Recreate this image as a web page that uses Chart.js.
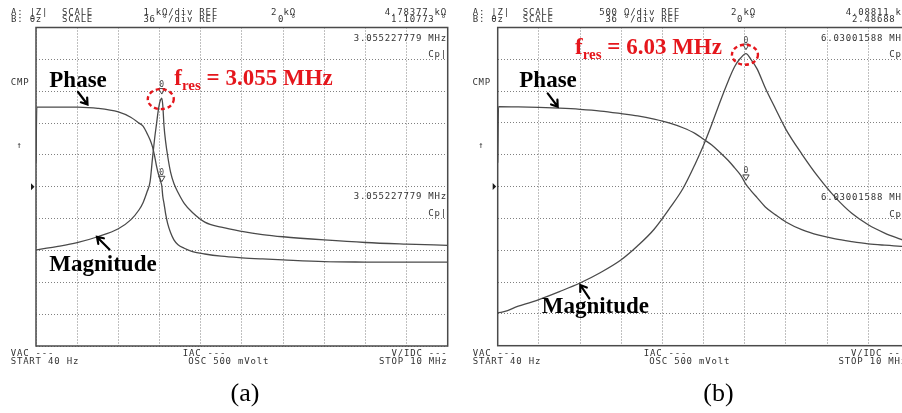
<!DOCTYPE html>
<html>
<head>
<meta charset="utf-8">
<script src="https://cdn.jsdelivr.net/npm/chart.js@4.4.1/dist/chart.umd.min.js"></script>
<style>
  html, body { margin: 0; padding: 0; background: #fff; overflow: hidden; width: 902px; height: 413px; }
  #wrap { position: relative; width: 902px; height: 413px; overflow: hidden; }
  canvas { position: absolute; top: 0; }
  #cA { left: 0; }
  #cB { left: 451px; }
</style>
</head>
<body>
<div id="wrap">
  <canvas id="cA" width="451" height="413"></canvas>
  <canvas id="cB" width="460" height="413"></canvas>
</div>
<script>
// ---- Sweep: 40 Hz to 10 MHz (frequency in MHz), 10 divisions ----
const xDivs = [0.00004, 1, 2, 3, 4, 5, 6, 7, 8, 9, 10];
const phaseDivs = [-180, -144, -108, -72, -36, 0, 36, 72, 108, 144, 180];

// ---- Panel (a): |Z| 1 kOhm/div, ref 2 kOhm; phase 36 deg/div, ref 0 deg ----
const zDivsA = [-3, -2, -1, 0, 1, 2, 3, 4, 5, 6, 7];
const freqA  = [0.00004, 0.02, 0.5, 1.0, 1.5, 2.0, 2.3, 2.5, 2.6, 2.7, 2.77, 2.83, 2.88, 2.93, 2.97, 3.0, 3.03, 3.055, 3.08, 3.11, 3.15, 3.2, 3.27, 3.35, 3.45, 3.6, 3.8, 4.1, 4.5, 5.0, 5.5, 6.0, 7.0, 8.0, 9.0, 10];
const magA   = [0.015, 0.02, 0.12, 0.245, 0.43, 0.68, 0.96, 1.27, 1.5, 1.85, 2.15, 2.9, 3.5, 4.0, 4.4, 4.62, 4.74, 4.78377, 4.55, 3.9, 3.4, 2.95, 2.45, 2.1, 1.82, 1.48, 1.19, 0.89, 0.73, 0.6, 0.5, 0.43, 0.33, 0.25, 0.2, 0.16];
const phaseA = [27, 90, 90, 89.9, 88.6, 84.5, 78.5, 72, 68.5, 60, 53, 45, 35, 22.7, 15, 10.5, 5.5, 1.10773, -11, -19, -31, -42, -52, -60, -65.5, -69.5, -73.2, -76, -78.5, -80.3, -81.6, -82.7, -84.6, -85.1, -85.3, -85.3];
const fresA = 3.055227779;   // MHz
const zMarkA = 4.78377;      // kOhm
const phMarkA = 1.10773;     // deg

// ---- Panel (b): |Z| 500 Ohm/div, ref 2 kOhm; phase 36 deg/div, ref 0 deg ----
const zDivsB = [-0.5, 0, 0.5, 1, 1.5, 2, 2.5, 3, 3.5, 4, 4.5];
const freqB  = [0.00004, 0.02, 0.5, 1.0, 1.5, 2.0, 2.5, 3.0, 3.4, 3.8, 4.2, 4.5, 4.8, 5.0, 5.2, 5.4, 5.6, 5.75, 5.9, 6.03, 6.15, 6.3, 6.5, 6.75, 7.0, 7.4, 7.8, 8.2, 8.6, 9.0, 9.4, 9.8, 10];
const magB   = [0.02, 0.02, 0.12, 0.225, 0.35, 0.485, 0.65, 0.85, 1.07, 1.33, 1.68, 1.97, 2.36, 2.65, 2.98, 3.33, 3.66, 3.88, 4.02, 4.08811, 4.0, 3.85, 3.55, 3.22, 2.9, 2.5, 2.14, 1.83, 1.58, 1.4, 1.27, 1.17, 1.12];
const phaseB = [27, 90.5, 90.2, 89.6, 88.7, 87.4, 85.5, 82.6, 80, 76.3, 71.5, 66.6, 60, 53.5, 47, 38.5, 29.5, 21.5, 13, 2.48688, -4.5, -12.5, -23, -32, -40, -49, -55, -59.2, -62.2, -64.7, -66.3, -67.6, -68];
const fresB = 6.03001588;    // MHz
const zMarkB = 4.08811;      // kOhm
const phMarkB = 2.48688;     // deg

const MONO  = '"DejaVu Sans Mono", "Liberation Mono", monospace';
const SERIF = '"Liberation Serif", "Times New Roman", serif';
const INK = '#333333';
const TRACE = '#4a4a4a';
const RED = '#e5161c';

function drawText(ctx, s, x, y, align, font, color, spacing) {
  ctx.font = font || ('9px ' + MONO);
  ctx.fillStyle = color || INK;
  ctx.textAlign = align === 'r' ? 'right' : (align === 'c' ? 'center' : 'left');
  ctx.textBaseline = 'alphabetic';
  ctx.letterSpacing = spacing || '0px';
  ctx.fillText(s, x, y);
  ctx.letterSpacing = '0px';
}

// status-line text: narrow monospace with the wide character pitch of the display
function mono(ctx, s, x, y, align) {
  drawText(ctx, s, x, y, align, '9px ' + MONO, INK, '0.8px');
}

function drawArrow(ctx, x1, y1, x2, y2) {
  const a = Math.atan2(y2 - y1, x2 - x1);
  const h = 7, spread = 0.6;
  ctx.strokeStyle = '#000';
  ctx.lineWidth = 2.2;
  ctx.lineCap = 'round';
  ctx.beginPath();
  ctx.moveTo(x1, y1); ctx.lineTo(x2, y2);
  ctx.moveTo(x2 - h * Math.cos(a - spread), y2 - h * Math.sin(a - spread));
  ctx.lineTo(x2, y2);
  ctx.lineTo(x2 - h * Math.cos(a + spread), y2 - h * Math.sin(a + spread));
  ctx.stroke();
}

function fresLabel(ctx, x, y, text) {
  ctx.fillStyle = RED;
  ctx.textAlign = 'left';
  ctx.textBaseline = 'alphabetic';
  ctx.font = 'bold 23px ' + SERIF;
  ctx.fillText('f', x, y);
  let w = ctx.measureText('f').width;
  ctx.font = 'bold 15px ' + SERIF;
  ctx.fillText('res', x + w, y + 5);
  w += ctx.measureText('res').width;
  ctx.font = 'bold 23px ' + SERIF;
  ctx.fillText(' = ' + text, x + w, y);
}

function markerAt(ctx, px, py) {
  // small hollow triangle with the marker number above it
  const tip = py - 4;
  ctx.strokeStyle = '#444';
  ctx.lineWidth = 1;
  ctx.beginPath();
  ctx.moveTo(px - 3.2, tip - 5.5);
  ctx.lineTo(px + 3.2, tip - 5.5);
  ctx.lineTo(px, tip);
  ctx.closePath();
  ctx.stroke();
  drawText(ctx, '0', px, tip - 7, 'c', '8px ' + MONO, '#444');
}

function makeOverlay(spec) {
  return {
    id: 'screenOverlay',
    afterDraw(chart) {
      const ctx = chart.ctx;
      const { left, top, right, bottom } = chart.chartArea;
      const xs = chart.scales.x, yZ = chart.scales.yZ, yP = chart.scales.yP;
      ctx.save();

      // frame of the display
      ctx.strokeStyle = '#4a4a4a';
      ctx.lineWidth = 1.5;
      ctx.strokeRect(left, top, right - left, bottom - top);

      // reference pointer and auxiliary marks left of the frame
      const ry = yZ.getPixelForValue(spec.refZ);
      ctx.fillStyle = '#1a1a1a';
      ctx.beginPath();
      ctx.moveTo(left - 5, ry - 3.5);
      ctx.lineTo(left - 1.5, ry);
      ctx.lineTo(left - 5, ry + 3.5);
      ctx.closePath();
      ctx.fill();
      mono(ctx, 'CMP', left - 25.3, 85, 'l');
      drawText(ctx, '\u2191', left - 16.7, 148, 'c', '9px ' + MONO);

      // instrument status lines
      for (const t of spec.texts) mono(ctx, t[0], t[1], t[2], t[3]);

      // markers on both traces at the resonance frequency
      const mx = xs.getPixelForValue(spec.fres);
      const myZ = yZ.getPixelForValue(spec.zMark);
      const myP = yP.getPixelForValue(spec.phMark);
      markerAt(ctx, mx, myZ);
      markerAt(ctx, mx, myP);

      // dashed red ring around the peak
      ctx.strokeStyle = RED;
      ctx.lineWidth = 2.4;
      ctx.setLineDash([4, 3]);
      ctx.beginPath();
      ctx.ellipse(mx - 1, myZ + 1, 13, 10, 0, 0, Math.PI * 2);
      ctx.stroke();
      ctx.setLineDash([]);

      fresLabel(ctx, spec.fresPos[0], spec.fresPos[1], spec.fresText);

      // trace names with pointers
      drawText(ctx, 'Phase', spec.phasePos[0], spec.phasePos[1], 'l', 'bold 23px ' + SERIF, '#000');
      drawText(ctx, 'Magnitude', spec.magPos[0], spec.magPos[1], 'l', 'bold 23px ' + SERIF, '#000');
      for (const a of spec.arrows) drawArrow(ctx, a[0], a[1], a[2], a[3]);

      // panel caption
      drawText(ctx, spec.caption, spec.capPos[0], spec.capPos[1], 'c', '26px ' + SERIF, '#000');

      ctx.restore();
    }
  };
}

function buildChart(id, freq, mag, phase, zDivs, pad, spec) {
  const toXY = arr => freq.map((f, i) => ({ x: f, y: arr[i] }));
  const gridStyle = { color: '#808080', lineWidth: 1, drawTicks: false };
  return new Chart(document.getElementById(id), {
    type: 'line',
    data: {
      datasets: [
        { label: '|Z|', data: toXY(mag), yAxisID: 'yZ', borderColor: TRACE, borderWidth: 1.3,
          pointRadius: 0, cubicInterpolationMode: 'monotone', fill: false },
        { label: '\u03b8z', data: toXY(phase), yAxisID: 'yP', borderColor: TRACE, borderWidth: 1.3,
          pointRadius: 0, cubicInterpolationMode: 'monotone', fill: false }
      ]
    },
    options: {
      responsive: false,
      animation: false,
      events: [],
      devicePixelRatio: 1,
      layout: { padding: pad },
      plugins: { legend: { display: false }, tooltip: { enabled: false } },
      scales: {
        x: {
          type: 'linear', min: xDivs[0], max: xDivs[xDivs.length - 1],
          ticks: { display: false }, grid: gridStyle,
          border: { display: false, dash: [1, 2] },
          afterBuildTicks: s => { s.ticks = xDivs.map(v => ({ value: v })); }
        },
        yZ: {
          type: 'linear', position: 'left', min: zDivs[0], max: zDivs[zDivs.length - 1],
          ticks: { display: false }, grid: gridStyle,
          border: { display: false, dash: [1, 2] },
          afterBuildTicks: s => { s.ticks = zDivs.map(v => ({ value: v })); }
        },
        yP: {
          type: 'linear', position: 'right', display: false,
          min: phaseDivs[0], max: phaseDivs[phaseDivs.length - 1]
        }
      }
    },
    plugins: [makeOverlay(spec)]
  });
}

// ---- panel (a) ----
buildChart('cA', freqA, magA, phaseA, zDivsA,
  { left: 36, top: 27.5, right: 3.3, bottom: 67 },
  {
    refZ: 2, fres: fresA, zMark: zMarkA, phMark: phMarkA,
    fresText: '3.055 MHz', fresPos: [174.3, 85],
    phasePos: [49.3, 86.5], magPos: [49.3, 270.7],
    arrows: [[78, 92, 87.5, 104.5], [109.5, 249.5, 97, 237]],
    caption: '(a)', capPos: [245, 401],
    texts: [
      ['A: |Z|', 11, 15.3, 'l'], ['B: \u03b8z', 11, 22.3, 'l'],
      ['SCALE', 62, 15.3, 'l'], ['SCALE', 62, 22.3, 'l'],
      ['1 k\u03a9/div REF', 218, 15.3, 'r'], ['36 \u00b0/div REF', 218, 22.3, 'r'],
      ['2 k\u03a9', 271, 15.3, 'l'], ['0 \u00b0', 278, 22.3, 'l'],
      [zMarkA.toFixed(5) + ' k\u03a9', 447, 15.3, 'r'], [phMarkA.toFixed(5) + ' \u00b0', 447, 22.3, 'r'],
      [fresA.toFixed(9) + ' MHz', 447, 40.5, 'r'], ['Cp|', 447, 56.5, 'r'],
      [fresA.toFixed(9) + ' MHz', 447, 199.3, 'r'], ['Cp|', 447, 216.3, 'r'],
      ['VAC ---', 10.7, 355.5, 'l'], ['START 40 Hz', 10.7, 364.3, 'l'],
      ['IAC ---', 182.7, 355.5, 'l'], ['OSC 500 mVolt', 188.3, 364.3, 'l'],
      ['V/IDC ---', 447.5, 355.5, 'r'], ['STOP 10 MHz', 447.5, 364.3, 'r']
    ]
  });

// ---- panel (b) ----
buildChart('cB', freqB, magB, phaseB, zDivsB,
  { left: 46.7, top: 27.5, right: 1.6, bottom: 67.3 },
  {
    refZ: 2, fres: fresB, zMark: zMarkB, phMark: phMarkB,
    fresText: '6.03 MHz', fresPos: [124, 53.5],
    phasePos: [68.3, 87], magPos: [90.7, 313],
    arrows: [[96.7, 93.3, 106.7, 106.7], [138.3, 298.3, 129.3, 285]],
    caption: '(b)', capPos: [267.5, 401],
    texts: [
      ['A: |Z|', 21.7, 15.3, 'l'], ['B: \u03b8z', 21.7, 22.3, 'l'],
      ['SCALE', 71.7, 15.3, 'l'], ['SCALE', 71.7, 22.3, 'l'],
      ['500 \u03a9/div REF', 229, 15.3, 'r'], ['36 \u00b0/div REF', 229, 22.3, 'r'],
      ['2 k\u03a9', 280, 15.3, 'l'], ['0 \u00b0', 286, 22.3, 'l'],
      [zMarkB.toFixed(5) + ' k\u03a9', 457, 15.3, 'r'], [phMarkB.toFixed(5) + ' \u00b0', 457, 22.3, 'r'],
      [fresB.toFixed(8) + ' MHz', 457, 40.5, 'r'], ['Cp|', 457, 56.5, 'r'],
      [fresB.toFixed(8) + ' MHz', 457, 199.5, 'r'], ['Cp|', 457, 216.5, 'r'],
      ['VAC ---', 21.7, 355.5, 'l'], ['START 40 Hz', 21.7, 364.3, 'l'],
      ['IAC ---', 192.7, 355.5, 'l'], ['OSC 500 mVolt', 198.3, 364.3, 'l'],
      ['V/IDC ---', 456, 355.5, 'r'], ['STOP 10 MHz', 456, 364.3, 'r']
    ]
  });
</script>
</body>
</html>
